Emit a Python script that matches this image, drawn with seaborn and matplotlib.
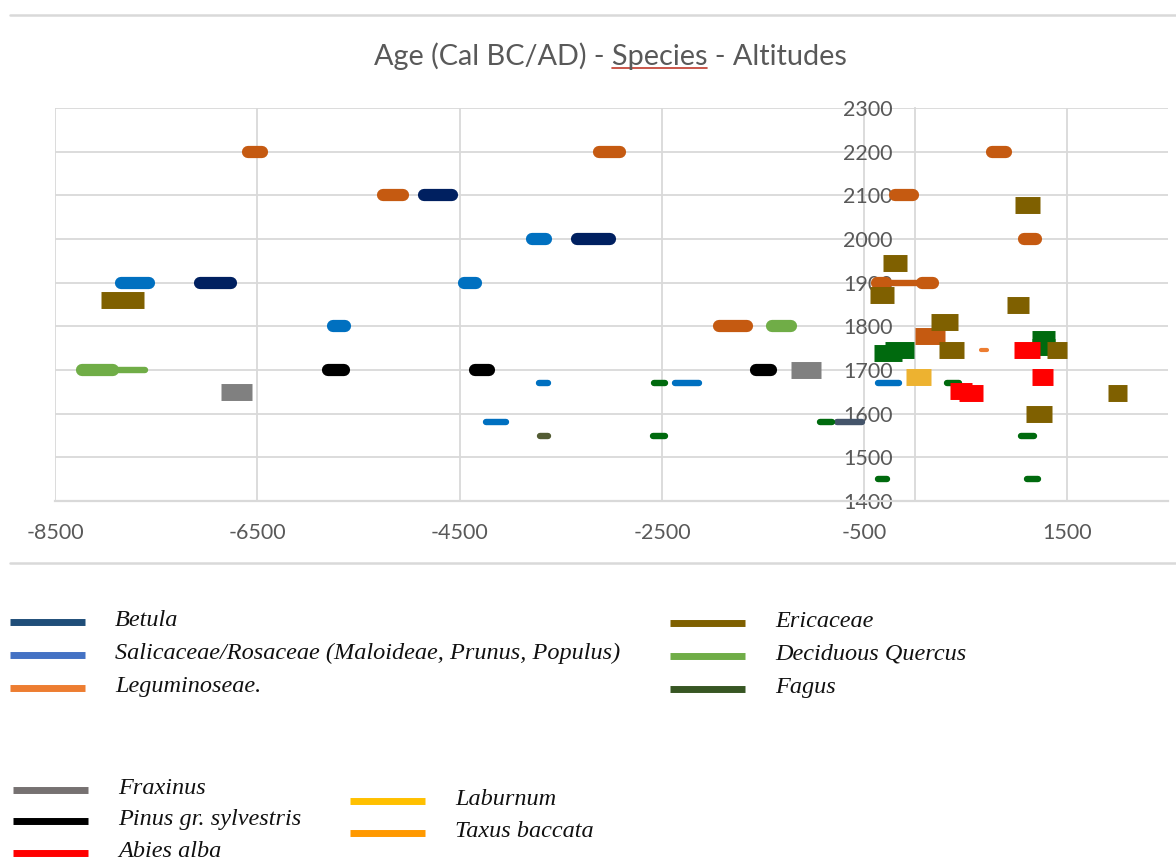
import matplotlib
matplotlib.use("Agg")
import matplotlib.pyplot as plt
from matplotlib.lines import Line2D
import pandas as pd
import seaborn as sns

# Each dated sample: series (colour group in the sheet), start/end age (cal BC/AD), altitude (m), mark kind
series = [
    # Leguminoseae
    'Leguminoseae', 'Leguminoseae', 'Leguminoseae', 'Leguminoseae', 'Leguminoseae',
    'Leguminoseae', 'Leguminoseae', 'Leguminoseae', 'Leguminoseae', 'Leguminoseae',
    'Leguminoseae',
    # Betula
    'Betula', 'Betula', 'Betula', 'Betula (2)',
    # Salicaceae/Rosaceae
    'Salicaceae', 'Salicaceae', 'Salicaceae', 'Salicaceae',
    'Salicaceae', 'Salicaceae', 'Salicaceae', 'Salicaceae',
    # Deciduous Quercus
    'Quercus', 'Quercus', 'Quercus',
    # Pinus
    'Pinus', 'Pinus', 'Pinus',
    # Fraxinus
    'Fraxinus', 'Fraxinus',
    # Ericaceae
    'Ericaceae', 'Ericaceae', 'Ericaceae', 'Ericaceae', 'Ericaceae',
    'Ericaceae', 'Ericaceae', 'Ericaceae', 'Ericaceae', 'Ericaceae',
    # Fagus
    'Fagus', 'Fagus', 'Fagus', 'Fagus', 'Fagus', 'Fagus', 'Fagus', 'Fagus (2)',
    'Fagus', 'Fagus', 'Fagus', 'Fagus',
    # Abies alba
    'Abies', 'Abies', 'Abies', 'Abies',
    # Laburnum, Taxus
    'Laburnum', 'Taxus', 'Taxus',
]
age_start = [
    -6595, -5262, -3120, -1940, 760, -200, 1075, -377, 67, -377,
    -2,
    -4850, -7070, -3340, -775,
    -7850, -5750, -3790, -4455, -3720, -4240, -2370, -365,
    -8235, -7930, -1415,
    -5805, -4345, -1570,
    -6862, -1226,
    -8046, 985, -318, -446, 906, 156, 235, 1301, 1903, 1094,
    -2580, -2585, 315, 1045, 1110, -370, -935, -3705,
    -407, -298, 1153, 1153,
    975, 1153, 344, 432,
    -91, 650, -352,
]
age_end = [
    -6450, -5056, -2915, -1660, 895, -20, 1195, -288, 175, 175,
    294,
    -4580, -6760, -3010, -520,
    -7570, -5630, -3645, -4335, -3630, -4045, -2140, -160,
    -7930, -7610, -1225,
    -5640, -4215, -1420,
    -6556, -930,
    -7622, 1232, -81, -209, 1123, 422, 482, 1498, 2091, 1350,
    -2470, -2470, 430, 1175, 1215, -275, -825, -3625,
    -130, -12, 1380, 1380,
    1232, 1360, 561, 670,
    156, 710, -330,
]
altitude = [
    2200, 2100, 2200, 1800, 2200, 2100, 2000, 1900, 1900, 1900,
    1779,
    2100, 1900, 2000, 1580,
    1900, 1800, 2000, 1900, 1670, 1580, 1670, 1670,
    1700, 1700, 1800,
    1700, 1700, 1700,
    1650, 1700,
    1860, 2078, 1944, 1872, 1850, 1810, 1745, 1745, 1647, 1600,
    1670, 1550, 1670, 1550, 1450, 1450, 1580, 1550,
    1740, 1746, 1772, 1752,
    1745, 1683, 1652, 1648,
    1683, 1746, 1738,
]
kind = [
    'bar', 'bar', 'bar', 'bar', 'bar', 'bar', 'bar', 'bar', 'bar', 'thin',
    'box',
    'bar', 'bar', 'bar', 'thin',
    'bar', 'bar', 'bar', 'bar', 'thin', 'thin', 'thin', 'thin',
    'bar', 'thin', 'bar',
    'bar', 'bar', 'bar',
    'box', 'box',
    'box', 'box', 'box', 'box', 'box', 'box', 'box', 'box', 'box', 'box',
    'thin', 'thin', 'thin', 'thin', 'thin', 'thin', 'thin', 'thin',
    'box', 'box', 'box', 'box',
    'box', 'box', 'box', 'box',
    'box', 'fine', 'fine',
]

plot_colors = {
    'Leguminoseae': '#C55A11', 'Betula': '#002060', 'Betula (2)': '#44546A',
    'Salicaceae': '#0070C0', 'Quercus': '#70AD47', 'Pinus': '#000000',
    'Fraxinus': '#808080', 'Ericaceae': '#7F6000', 'Fagus': '#006A0E',
    'Fagus (2)': '#535C34', 'Abies': '#FF0000', 'Laburnum': '#EDB230',
    'Taxus': '#ED7D31',
}

# legend (separate block under the chart)
legend_labels = ['Betula', 'Salicaceae/Rosaceae (Maloideae, Prunus, Populus)', 'Leguminoseae.',
                 'Ericaceae', 'Deciduous Quercus', 'Fagus',
                 'Fraxinus', 'Pinus gr. sylvestris', 'Abies alba',
                 'Laburnum', 'Taxus baccata']
legend_colors = ['#1F4E79', '#4472C4', '#ED7D31',
                 '#7F6000', '#70AD47', '#375623',
                 '#767171', '#000000', '#FF0000',
                 '#FFC000', '#FF9900']
# pixel anchors of each legend entry (handle left x, row centre y)
legend_x = [10, 10, 10, 670, 670, 670, 13, 13, 13, 350, 350]
legend_y = [622, 655, 688, 623, 656, 689, 790, 821, 853, 801, 833]

W, H = 1176, 863
sns.set_style("white")
plt.rcParams['font.family'] = ['Lato', 'DejaVu Sans']
plt.rcParams['axes.unicode_minus'] = False

fig = plt.figure(figsize=(W / 100, H / 100), dpi=100)
ax = fig.add_axes([55 / W, 1 - 501 / H, 1113 / W, 393 / H])

rows = []
for i in range(len(series)):
    rows.append({'mark': i, 'series': series[i], 'kind': kind[i], 'age': age_start[i], 'alt': altitude[i]})
    rows.append({'mark': i, 'series': series[i], 'kind': kind[i], 'age': age_end[i], 'alt': altitude[i]})
df = pd.DataFrame(rows)

kind_style = {
    'thin': (4.6, 'round'),
    'fine': (3.0, 'round'),
    'bar': (8.8, 'round'),
    'box': (12.2, 'butt'),
}
box_order = ['Fagus', 'Leguminoseae', 'Fraxinus', 'Laburnum', 'Abies', 'Ericaceae']
for k in ['thin', 'bar', 'fine', 'box']:
    sub = df[df['kind'] == k]
    lw, cap = kind_style[k]
    order = [s for s in box_order if s in set(sub['series'])] if k == 'box' else None
    n0 = len(ax.lines)
    sns.lineplot(data=sub, x='age', y='alt', units='mark', estimator=None, hue='series',
                 hue_order=order, palette=plot_colors, linewidth=lw, sort=False,
                 legend=False, ax=ax)
    for ln in ax.lines[n0:]:
        ln.set_solid_capstyle(cap)
        ln.set_zorder(3)

grid_c = '#D9D9D9'
ax.set_xlim(-8500, 2500)
ax.set_ylim(1400, 2300)
ax.set_xticks(range(-8500, 2000, 2000))
ax.set_yticks(range(1400, 2400, 100))
ax.grid(True, color=grid_c, linewidth=1.3)
ax.set_axisbelow(True)
ax.set_xlabel('')
ax.set_ylabel('')
for s in ['top', 'right']:
    ax.spines[s].set_visible(False)
ax.spines['left'].set_position(('data', 0))
ax.spines['left'].set_color(grid_c)
ax.spines['left'].set_linewidth(1.3)
ax.spines['bottom'].set_color(grid_c)
ax.spines['bottom'].set_linewidth(1.6)
ax.tick_params(axis='both', length=0, labelsize=15.5, labelcolor='#595959')
ax.tick_params(axis='y', pad=16)
ax.tick_params(axis='x', pad=16)

fig.text(610 / W, 1 - 56 / H, 'Age (Cal BC/AD) - Species - Altitudes', ha='center', va='center',
         fontsize=20.8, color='#595959')
# spell-check underline under "Species"
fig.add_artist(Line2D([612 / W, 707 / W], [1 - 68 / H, 1 - 68 / H], color='#C0392B', lw=1.2))

# chart area frame lines
for yy in [15, 563]:
    fig.add_artist(Line2D([10 / W, 1.0], [1 - yy / H, 1 - yy / H], color=grid_c, lw=1.8))

for lab, col, lx, ly in zip(legend_labels, legend_colors, legend_x, legend_y):
    fig.add_artist(Line2D([lx / W, (lx + 75) / W], [1 - ly / H, 1 - ly / H], color=col,
                          lw=5, solid_capstyle='butt'))
    fig.text((lx + 105) / W, 1 - (ly - 2) / H, lab, ha='left', va='center', fontsize=17.5,
             family='Liberation Serif', style='italic', color='#111111')

fig.savefig('out.png', dpi=100)
